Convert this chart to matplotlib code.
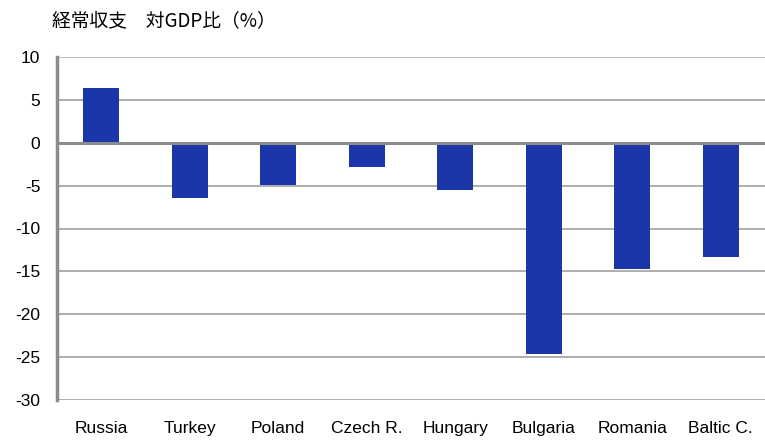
import matplotlib
matplotlib.use("Agg")
import matplotlib.pyplot as plt

categories = ["Russia", "Turkey", "Poland", "Czech R.", "Hungary", "Bulgaria", "Romania", "Baltic C."]
values = [6.4, -6.4, -4.9, -2.8, -5.5, -24.6, -14.7, -13.3]
yticks = [10, 5, 0, -5, -10, -15, -20, -25, -30]
title = "経常収支　対GDP比（%）"

plt.rcParams['font.family'] = ['Liberation Sans', 'Noto Sans CJK JP', 'DejaVu Sans']

fig = plt.figure(figsize=(7.65, 4.41), dpi=100)
ax = fig.add_axes([57/765, 1 - 400/441, (765 - 57)/765, (400 - 57)/441])

x = list(range(len(categories)))
ax.bar(x, values, width=0.41, color="#1a36a8", zorder=3)
ax.set_xlim(-0.5, len(categories) - 0.5)
ax.set_ylim(-30, 10)
ax.set_yticks(yticks)
ax.set_yticklabels([str(t) for t in yticks], fontsize=12.5)
for t in yticks:
    if t == 0:
        ax.axhline(t, color="#8c8c8c", lw=2.2, zorder=4)
    elif t == 10:
        ax.axhline(t, color="#c0c0c0", lw=1.5, zorder=1)
    else:
        ax.axhline(t, color="#a0a0a0", lw=1.2, zorder=1)
ax.set_xticks(x)
ax.set_xticklabels(categories, fontsize=12.5)
ax.tick_params(axis='both', length=0)
ax.tick_params(axis='x', pad=15)
ax.tick_params(axis='y', pad=12)
for s in ["top", "right", "bottom"]:
    ax.spines[s].set_visible(False)
ax.spines["left"].set_color("#8c8c8c")
ax.spines["left"].set_linewidth(2.5)

fig.text(52/765, 1 - 21/441, title, fontsize=13.5, family=['Noto Sans CJK JP', 'DejaVu Sans'], va='center', ha='left')

fig.savefig("out.png", dpi=100)
